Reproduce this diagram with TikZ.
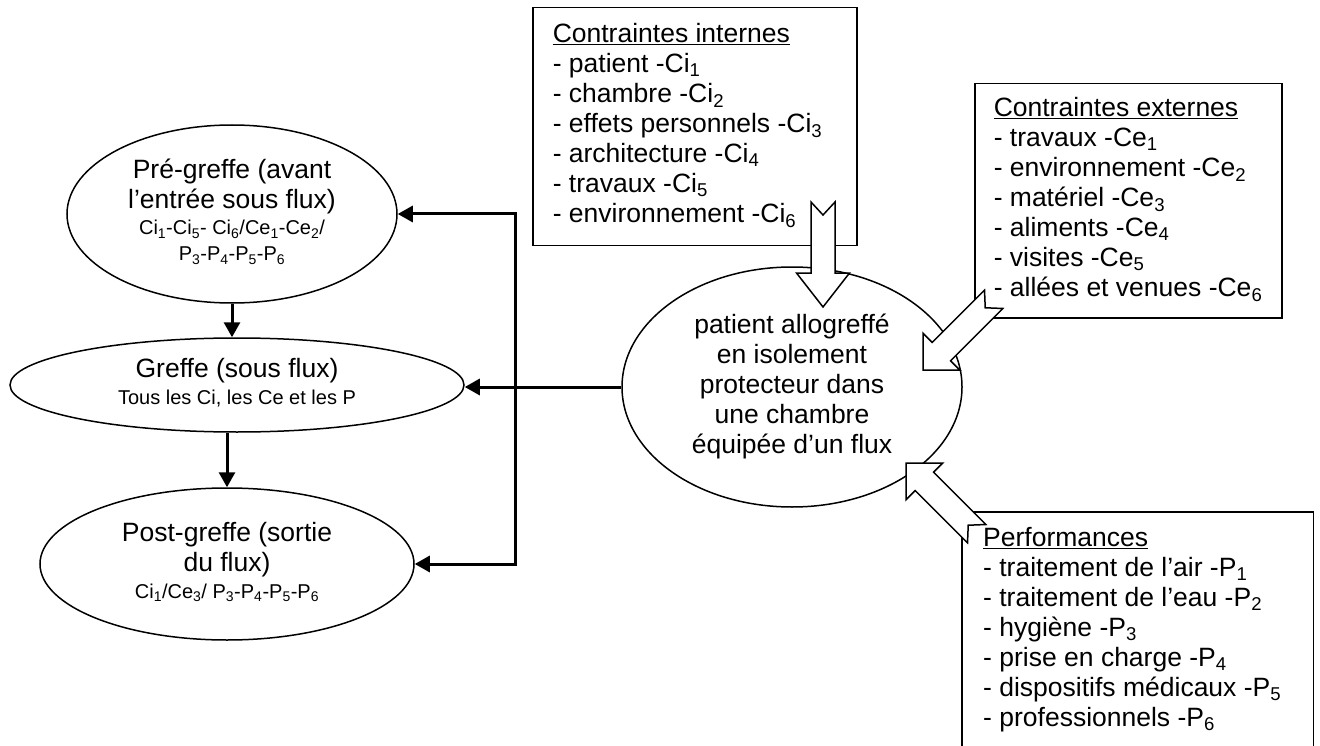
\documentclass[tikz,border=0pt]{standalone}
\usepackage{fontspec}
\setmainfont{Liberation Sans}
\usetikzlibrary{shapes.geometric,arrows.meta}
\newcommand\sbx[1]{\textsubscript{#1}}
\newcommand\smf{\fontsize{20}{25}\selectfont}
\newcommand\blockarrow[7]{%
  \begin{scope}[shift={(#1)}, rotate=#2]
    \draw[blk] (0,0) -- (-#4,#5) -- (-#4,#6) -- (-#3,#6) -- (-#3+#7,0)
      -- (-#3,-#6) -- (-#4,-#6) -- (-#4,-#5) -- cycle;
  \end{scope}}
\begin{document}
\begin{tikzpicture}[x=1pt,y=1pt,
  bigfont/.style={font=\fontsize{26.5}{30}\selectfont},
  ell/.style={draw, line width=1.5pt, ellipse, inner sep=0pt, bigfont},
  boxn/.style={draw, line width=1.5pt, rectangle, inner ysep=0pt, anchor=north west, bigfont},
  conn/.style={line width=3pt, line join=miter, -{Triangle[length=15pt,width=16pt]}},
  blk/.style={draw, fill=white, line width=1.5pt, line join=miter}]
\useasboundingbox (0,0) rectangle (1320,-746);

% left column ellipses
\node[ell, minimum width=330pt, minimum height=178pt] (pre) at (232,-214)
  {\begin{tabular}{@{}c@{}}Pré-greffe (avant\\l’entrée sous flux)\\[-4pt]
   \smf Ci\sbx{1}-Ci\sbx{5}- Ci\sbx{6}/Ce\sbx{1}-Ce\sbx{2}/\\[-4pt]
   \smf P\sbx{3}-P\sbx{4}-P\sbx{5}-P\sbx{6}\end{tabular}};
\node[ell, minimum width=454pt, minimum height=94pt] (gr) at (237,-385)
  {\begin{tabular}{@{}c@{}}Greffe (sous flux)\\[-3pt]
   \smf Tous les Ci, les Ce et les P\end{tabular}};
\node[ell, minimum width=374pt, minimum height=152pt] (post) at (227,-564)
  {\begin{tabular}{@{}c@{}}Post-greffe (sortie\\du flux)\\[-3pt]
   \smf Ci\sbx{1}/Ce\sbx{3}/ P\sbx{3}-P\sbx{4}-P\sbx{5}-P\sbx{6}\end{tabular}};

% boxes
\node[boxn, inner xsep=20pt, minimum height=238pt] (ci) at (532,-7)
  {\makebox[284pt][l]{\begin{tabular}{@{}l@{}}\underline{Contraintes internes}\\
   - patient -Ci\sbx{1}\\- chambre -Ci\sbx{2}\\- effets personnels -Ci\sbx{3}\\
   - architecture -Ci\sbx{4}\\- travaux -Ci\sbx{5}\\- environnement -Ci\sbx{6}\end{tabular}}};
\node[boxn, inner xsep=19pt, minimum height=234pt] (ce) at (974,-83)
  {\makebox[269pt][l]{\begin{tabular}{@{}l@{}}\underline{Contraintes externes}\\
   - travaux -Ce\sbx{1}\\- environnement -Ce\sbx{2}\\- matériel -Ce\sbx{3}\\
   - aliments -Ce\sbx{4}\\- visites -Ce\sbx{5}\\- allées et venues -Ce\sbx{6}\end{tabular}}};
\node[anchor=north west, inner xsep=21pt, inner ysep=13pt, bigfont] (perf) at (962,-512)
  {\makebox[309pt][l]{\begin{tabular}{@{}l@{}}\underline{Performances}\\
   - traitement de l’air -P\sbx{1}\\- traitement de l’eau -P\sbx{2}\\- hygiène -P\sbx{3}\\
   - prise en charge -P\sbx{4}\\- dispositifs médicaux -P\sbx{5}\\- professionnels -P\sbx{6}\end{tabular}}};
\draw[line width=1.5pt] (perf.north west |- 0,-746) -- (perf.north west)
  -- (perf.north east) -- (perf.north east |- 0,-746);

% central ellipse
\node[ell, minimum width=340pt, minimum height=240pt] (c) at (792,-387)
  {\begin{tabular}{@{}c@{}}patient allogreffé\\en isolement\\protecteur dans\\une chambre\\équipée d’un flux\end{tabular}};

% connectors
\coordinate (jx) at (515,0);
\draw[conn] (c.west) -- (c.west -| gr.east);
\draw[conn] (c.west -| jx) |- (pre.east);
\draw[conn] (c.west -| jx) |- (post.east);
\draw[conn] (pre.south) -- (pre.south |- gr.north);
\draw[conn] (post.north |- gr.south) -- (post.north);

% block arrows
\coordinate (ti) at (823,-307);
\coordinate (te) at (923,-370);
\coordinate (tp) at (906,-463);
\blockarrow{ti}{-90}{105}{34}{26.5}{12}{13}
\blockarrow{te}{225}{100}{26}{26}{13}{12}
\blockarrow{tp}{135}{100}{26}{26}{13}{12}
\end{tikzpicture}
\end{document}
